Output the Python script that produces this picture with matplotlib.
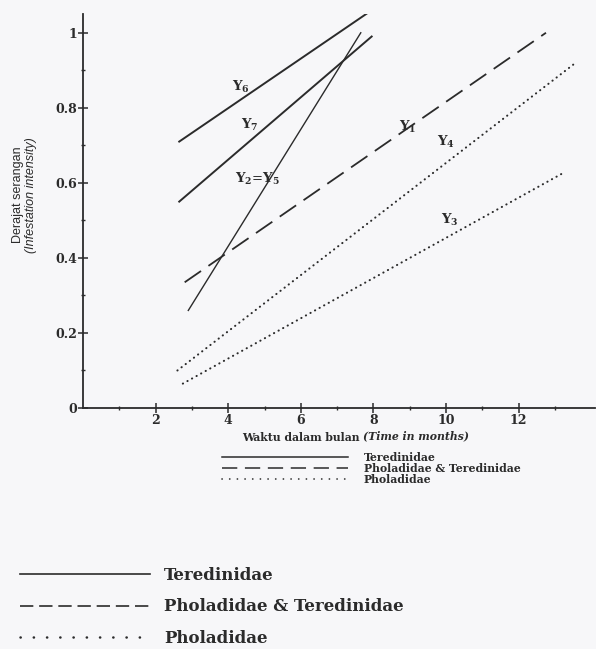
import numpy as np
import matplotlib.pyplot as plt
from matplotlib.lines import Line2D

# Line endpoints: (months, infestation intensity)
y6_x = [2.65, 7.95]
y6_y = [0.71, 1.06]
y7_x = [2.65, 7.95]
y7_y = [0.55, 0.99]
y25_x = [2.9, 7.65]
y25_y = [0.26, 1.00]
y1_x = [2.8, 12.75]
y1_y = [0.335, 1.00]
y4_x = [2.6, 13.5]
y4_y = [0.10, 0.915]
y3_x = [2.75, 13.2]
y3_y = [0.065, 0.625]

xTicks = [2, 4, 6, 8, 10, 12]
yTicks = [0, 0.2, 0.4, 0.6, 0.8, 1]
yTickLabels = ['0', '0.2', '0.4', '0.6', '0.8', '1']
legendLabels = ['Teredinidae', 'Pholadidae & Teredinidae', 'Pholadidae']

ink = '#2b2b2b'
bg = '#f7f7f9'
plt.rcParams['mathtext.fontset'] = 'dejavuserif'

W, H = 596, 649
fig = plt.figure(figsize=(W/100, H/100), dpi=100, facecolor=bg)
ax = fig.add_axes([83/W, 1-408/H, 512/W, (408-14)/H])
ax.set_facecolor(bg)
ax.set_xlim(0, 14.1)
ax.set_ylim(0, 1.05)

ax.plot(y6_x, y6_y, color=ink, lw=1.4)
ax.plot(y7_x, y7_y, color=ink, lw=1.4)
ax.plot(y25_x, y25_y, color=ink, lw=1.0)
ax.plot(y1_x, y1_y, color=ink, lw=1.3, linestyle=(0, (11, 5)))
ax.plot(y4_x, y4_y, color=ink, lw=1.5, linestyle=(0, (0.1, 2.4)), dash_capstyle='round')
ax.plot(y3_x, y3_y, color=ink, lw=1.5, linestyle=(0, (0.1, 2.4)), dash_capstyle='round')

lblFont = dict(fontsize=9.5, color=ink, ha='center', va='center')
ax.text(4.35, 0.855, r'$\mathbf{Y_6}$', **lblFont)
ax.text(4.6, 0.755, r'$\mathbf{Y_7}$', **lblFont)
ax.text(4.8, 0.61, r'$\mathbf{Y_2}$=$\mathbf{Y_5}$', **lblFont)
ax.text(8.95, 0.75, r'$\mathbf{Y_1}$', **lblFont)
ax.text(10.0, 0.71, r'$\mathbf{Y_4}$', **lblFont)
ax.text(10.1, 0.50, r'$\mathbf{Y_3}$', **lblFont)

for s in ['top', 'right']:
    ax.spines[s].set_visible(False)
for s in ['left', 'bottom']:
    ax.spines[s].set_color(ink)
    ax.spines[s].set_linewidth(1.3)

ax.set_xticks(xTicks)
ax.set_xticks(np.arange(1, 14, 2), minor=True)
ax.set_yticks(yTicks)
ax.set_yticklabels(yTickLabels)
ax.set_yticks(np.arange(0.1, 1.0, 0.2), minor=True)
ax.tick_params(which='major', direction='inout', length=7, width=1.1, color=ink, pad=1,
               labelsize=9, labelcolor=ink)
ax.tick_params(which='minor', direction='inout', length=3, width=1.0, color=ink)
for t in ax.get_xticklabels() + ax.get_yticklabels():
    t.set_fontfamily('DejaVu Serif')
    t.set_fontweight('bold')

# axis titles
fig.text(18/W, 1-195/H, 'Derajat serangan', rotation=90, ha='center', va='center',
         fontsize=9, family='Liberation Sans', color=ink)
fig.text(31/W, 1-195/H, '(Infestation intensity)', rotation=90, ha='center', va='center',
         fontsize=9, family='Liberation Sans', style='italic', color=ink)
xlY = 1-441/H
xl = fig.text(242/W, xlY, 'Waktu dalam bulan ', ha='left', va='baseline',
              fontsize=7.8, family='DejaVu Serif', weight='bold', color=ink)
renderer = fig.canvas.get_renderer()
xlEnd = xl.get_window_extent(renderer).x1/fig.bbox.width
fig.text(xlEnd, xlY + 2/H, '(Time in months)', ha='left', va='baseline',
         fontsize=7.8, family='DejaVu Serif', weight='bold', style='italic', color=ink)

# inner legend
h1 = [Line2D([], [], color=ink, lw=1.1),
      Line2D([], [], color=ink, lw=1.1, linestyle=(0, (10, 5))),
      Line2D([], [], color=ink, lw=1.2, linestyle=(0, (0.1, 4.5)), dash_capstyle='round')]
leg1 = fig.legend(h1, legendLabels, loc='upper left', bbox_to_anchor=(222/W, 1-452/H),
                  frameon=False, borderpad=0, borderaxespad=0, handlelength=11.6,
                  handletextpad=1.5, labelspacing=0.0,
                  prop=dict(family='DejaVu Serif', weight='bold', size=7.8))
for t in leg1.get_texts():
    t.set_color(ink)

# bottom legend
h2 = [Line2D([], [], color=ink, lw=1.2),
      Line2D([], [], color=ink, lw=1.2, linestyle=(0, (8, 3.5))),
      Line2D([], [], color=ink, lw=1.8, linestyle=(0, (0.1, 5.2)), dash_capstyle='round')]
leg2 = fig.legend(h2, legendLabels, loc='upper left', bbox_to_anchor=(20/W, 1-567/H),
                  frameon=False, borderpad=0, borderaxespad=0, handlelength=7.8,
                  handletextpad=0.85, labelspacing=0.86,
                  prop=dict(family='DejaVu Serif', weight='bold', size=12))
for t in leg2.get_texts():
    t.set_color(ink)

fig.savefig('out.png', dpi=100, facecolor=bg)
